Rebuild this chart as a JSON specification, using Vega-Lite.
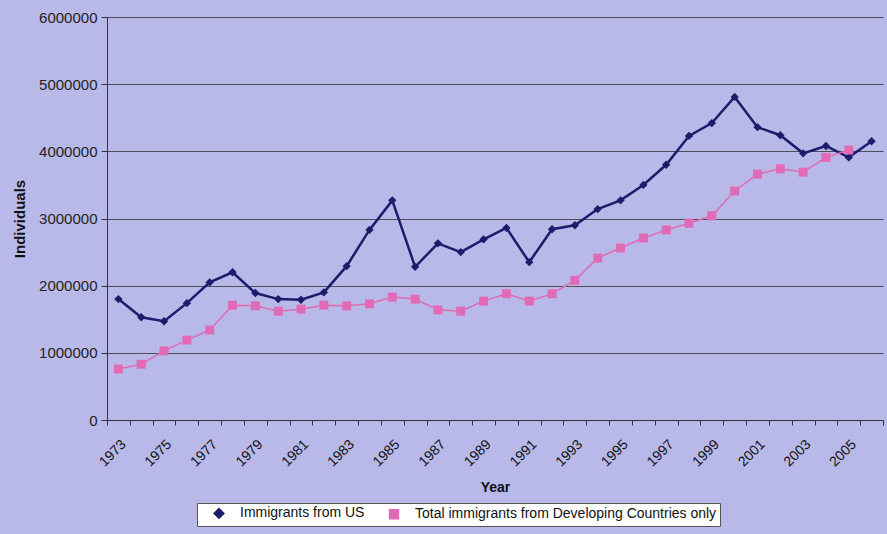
{
  "$schema": "https://vega.github.io/schema/vega-lite/v6.json",
  "autosize": "none",
  "width": 776,
  "height": 403,
  "padding": {"left": 107, "top": 17, "right": 4, "bottom": 114},
  "background": "#b8b9e9",
  "config": {
    "view": {"stroke": null, "fill": "#b8b9e9"},
    "font": "Liberation Sans"
  },
  "data": {
    "values": [
      {"year": 1973, "series": "Immigrants from US", "value": 1800000},
      {"year": 1974, "series": "Immigrants from US", "value": 1530000},
      {"year": 1975, "series": "Immigrants from US", "value": 1470000},
      {"year": 1976, "series": "Immigrants from US", "value": 1740000},
      {"year": 1977, "series": "Immigrants from US", "value": 2050000},
      {"year": 1978, "series": "Immigrants from US", "value": 2200000},
      {"year": 1979, "series": "Immigrants from US", "value": 1890000},
      {"year": 1980, "series": "Immigrants from US", "value": 1800000},
      {"year": 1981, "series": "Immigrants from US", "value": 1790000},
      {"year": 1982, "series": "Immigrants from US", "value": 1900000},
      {"year": 1983, "series": "Immigrants from US", "value": 2290000},
      {"year": 1984, "series": "Immigrants from US", "value": 2830000},
      {"year": 1985, "series": "Immigrants from US", "value": 3270000},
      {"year": 1986, "series": "Immigrants from US", "value": 2280000},
      {"year": 1987, "series": "Immigrants from US", "value": 2630000},
      {"year": 1988, "series": "Immigrants from US", "value": 2500000},
      {"year": 1989, "series": "Immigrants from US", "value": 2690000},
      {"year": 1990, "series": "Immigrants from US", "value": 2860000},
      {"year": 1991, "series": "Immigrants from US", "value": 2350000},
      {"year": 1992, "series": "Immigrants from US", "value": 2840000},
      {"year": 1993, "series": "Immigrants from US", "value": 2900000},
      {"year": 1994, "series": "Immigrants from US", "value": 3140000},
      {"year": 1995, "series": "Immigrants from US", "value": 3270000},
      {"year": 1996, "series": "Immigrants from US", "value": 3500000},
      {"year": 1997, "series": "Immigrants from US", "value": 3800000},
      {"year": 1998, "series": "Immigrants from US", "value": 4230000},
      {"year": 1999, "series": "Immigrants from US", "value": 4420000},
      {"year": 2000, "series": "Immigrants from US", "value": 4810000},
      {"year": 2001, "series": "Immigrants from US", "value": 4360000},
      {"year": 2002, "series": "Immigrants from US", "value": 4240000},
      {"year": 2003, "series": "Immigrants from US", "value": 3970000},
      {"year": 2004, "series": "Immigrants from US", "value": 4080000},
      {"year": 2005, "series": "Immigrants from US", "value": 3910000},
      {"year": 2006, "series": "Immigrants from US", "value": 4150000},
      {"year": 1973, "series": "Total immigrants from Developing Countries only", "value": 760000},
      {"year": 1974, "series": "Total immigrants from Developing Countries only", "value": 830000},
      {"year": 1975, "series": "Total immigrants from Developing Countries only", "value": 1030000},
      {"year": 1976, "series": "Total immigrants from Developing Countries only", "value": 1190000},
      {"year": 1977, "series": "Total immigrants from Developing Countries only", "value": 1340000},
      {"year": 1978, "series": "Total immigrants from Developing Countries only", "value": 1710000},
      {"year": 1979, "series": "Total immigrants from Developing Countries only", "value": 1700000},
      {"year": 1980, "series": "Total immigrants from Developing Countries only", "value": 1620000},
      {"year": 1981, "series": "Total immigrants from Developing Countries only", "value": 1650000},
      {"year": 1982, "series": "Total immigrants from Developing Countries only", "value": 1710000},
      {"year": 1983, "series": "Total immigrants from Developing Countries only", "value": 1700000},
      {"year": 1984, "series": "Total immigrants from Developing Countries only", "value": 1730000},
      {"year": 1985, "series": "Total immigrants from Developing Countries only", "value": 1830000},
      {"year": 1986, "series": "Total immigrants from Developing Countries only", "value": 1800000},
      {"year": 1987, "series": "Total immigrants from Developing Countries only", "value": 1640000},
      {"year": 1988, "series": "Total immigrants from Developing Countries only", "value": 1620000},
      {"year": 1989, "series": "Total immigrants from Developing Countries only", "value": 1770000},
      {"year": 1990, "series": "Total immigrants from Developing Countries only", "value": 1880000},
      {"year": 1991, "series": "Total immigrants from Developing Countries only", "value": 1770000},
      {"year": 1992, "series": "Total immigrants from Developing Countries only", "value": 1880000},
      {"year": 1993, "series": "Total immigrants from Developing Countries only", "value": 2080000},
      {"year": 1994, "series": "Total immigrants from Developing Countries only", "value": 2410000},
      {"year": 1995, "series": "Total immigrants from Developing Countries only", "value": 2560000},
      {"year": 1996, "series": "Total immigrants from Developing Countries only", "value": 2710000},
      {"year": 1997, "series": "Total immigrants from Developing Countries only", "value": 2830000},
      {"year": 1998, "series": "Total immigrants from Developing Countries only", "value": 2930000},
      {"year": 1999, "series": "Total immigrants from Developing Countries only", "value": 3040000},
      {"year": 2000, "series": "Total immigrants from Developing Countries only", "value": 3410000},
      {"year": 2001, "series": "Total immigrants from Developing Countries only", "value": 3660000},
      {"year": 2002, "series": "Total immigrants from Developing Countries only", "value": 3740000},
      {"year": 2003, "series": "Total immigrants from Developing Countries only", "value": 3690000},
      {"year": 2004, "series": "Total immigrants from Developing Countries only", "value": 3910000},
      {"year": 2005, "series": "Total immigrants from Developing Countries only", "value": 4020000}
    ]
  },
  "encoding": {
    "x": {
      "field": "year",
      "type": "ordinal",
      "scale": {"paddingInner": 0, "paddingOuter": 0},
      "axis": {
        "title": "Year",
        "titleFont": "Liberation Sans",
        "titleFontSize": 14,
        "titleFontWeight": "bold",
        "titleColor": "#111111",
        "titlePadding": 12,
        "labelAngle": -45,
        "labelFontSize": 14,
        "labelColor": "#111111",
        "labelExpr": "datum.value % 2 == 1 ? datum.label : ''",
        "tickBand": "extent",
        "tickSize": 5,
        "tickColor": "#333333",
        "domainColor": "#333333",
        "labelPadding": 12,
        "grid": false
      }
    },
    "y": {
      "field": "value",
      "type": "quantitative",
      "scale": {"domain": [0, 6000000], "nice": false},
      "axis": {
        "title": "Individuals",
        "titleFont": "Liberation Sans",
        "titleFontSize": 15,
        "titleFontWeight": "bold",
        "titleColor": "#111111",
        "titlePadding": 11,
        "values": [0, 1000000, 2000000, 3000000, 4000000, 5000000, 6000000],
        "format": "d",
        "labelFontSize": 15,
        "labelColor": "#222222",
        "labelPadding": 4,
        "tickSize": 6,
        "tickColor": "#333333",
        "domainColor": "#333333",
        "grid": true,
        "gridColor": "#333333",
        "gridOpacity": 0.8,
        "gridWidth": 1
      }
    },
    "color": {
      "field": "series",
      "type": "nominal",
      "scale": {
        "domain": ["Immigrants from US", "Total immigrants from Developing Countries only"],
        "range": ["#1c1c6c", "#e06ab4"]
      },
      "legend": {
        "title": null,
        "orient": "none",
        "direction": "horizontal",
        "legendX": 90,
        "legendY": 486,
        "fillColor": "#ffffff",
        "strokeColor": "#555555",
        "padding": 3,
        "labelFont": "Liberation Sans",
        "labelFontSize": 14,
        "labelColor": "#111111",
        "labelLimit": 500,
        "symbolSize": 100,
        "symbolOffset": 12,
        "columnPadding": 10,
        "labelOffset": 14
      }
    }
  },
  "layer": [
    {
      "mark": {"type": "line"},
      "encoding": {
        "strokeWidth": {
          "field": "series",
          "type": "nominal",
          "scale": {
            "domain": ["Immigrants from US", "Total immigrants from Developing Countries only"],
            "range": [2.5, 1.5]
          },
          "legend": null
        }
      }
    },
    {
      "mark": {"type": "point", "filled": true, "opacity": 1},
      "encoding": {
        "shape": {
          "field": "series",
          "type": "nominal",
          "scale": {
            "domain": ["Immigrants from US", "Total immigrants from Developing Countries only"],
            "range": ["diamond", "square"]
          },
          "legend": null
        },
        "size": {
          "field": "series",
          "type": "nominal",
          "scale": {
            "domain": ["Immigrants from US", "Total immigrants from Developing Countries only"],
            "range": [70, 80]
          },
          "legend": null
        }
      }
    }
  ]
}
